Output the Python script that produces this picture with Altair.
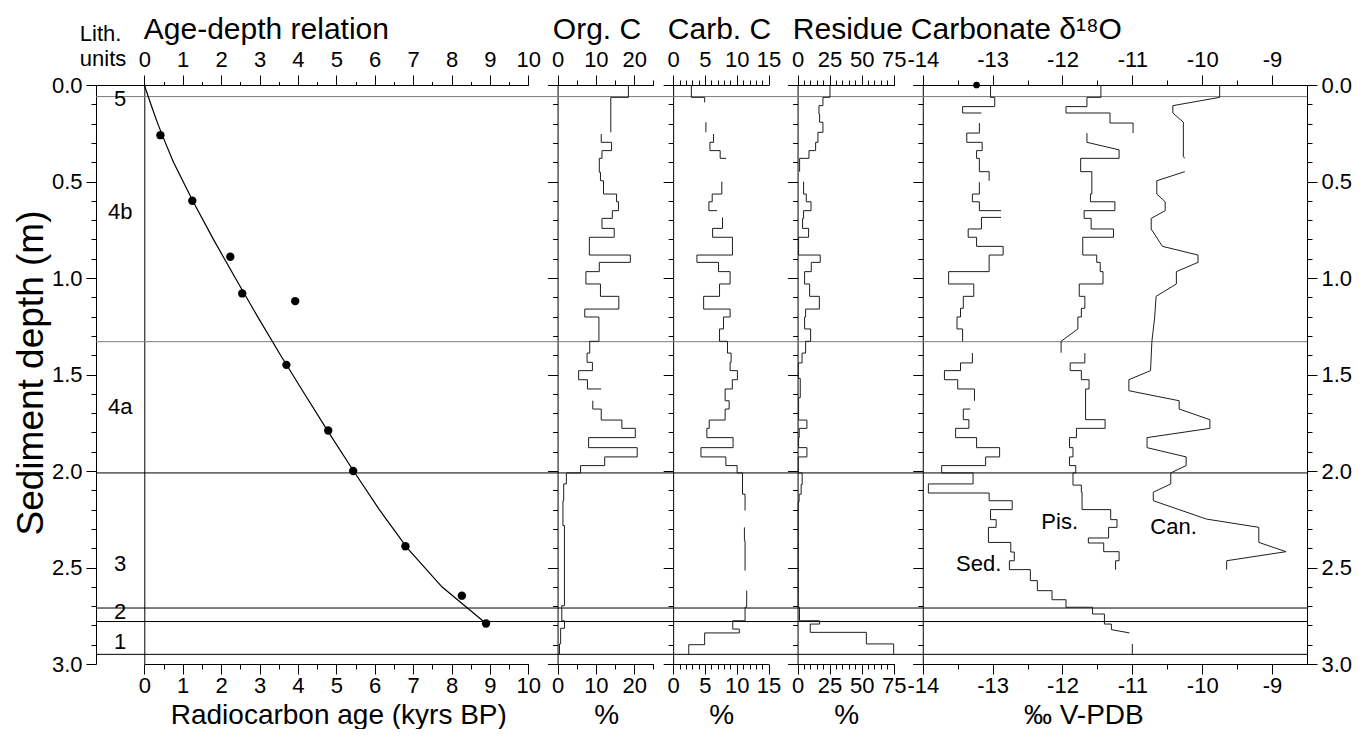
import altair as alt
import pandas as pd

FONT = "Liberation Sans"

# ------------------------------------------------------------------ data
DEPTH_MAX = 3.0

# lithological boundaries (m)
BOUNDARY_MAIN = [2.01, 2.71, 2.78, 2.95]
BOUNDARY_SUB = [0.06, 1.33]

LITH_UNITS = ["5", "4b", "4a", "3", "2", "1"]
LITH_DEPTH = [0.07, 0.66, 1.67, 2.48, 2.73, 2.885]

# radiocarbon dates
AGE_KYR = [0.42, 1.25, 2.24, 2.55, 3.93, 3.70, 4.79, 5.44, 6.80, 8.27, 8.90]
AGE_DEPTH = [0.26, 0.60, 0.89, 1.08, 1.12, 1.45, 1.79, 2.00, 2.39, 2.646, 2.79]

# age-depth model
MODEL_DEPTH = [0, 0.1, 0.2, 0.3, 0.4, 0.6, 0.8, 1.0, 1.2, 1.4, 1.6, 1.8, 2.0, 2.2, 2.4, 2.6, 2.79]
MODEL_KYR = [0, 0.17, 0.35, 0.55, 0.76, 1.26, 1.80, 2.37, 2.95, 3.55, 4.17, 4.80, 5.45, 6.12, 6.85, 7.75, 8.90]

# step profiles: runs of (depth breaks, values between breaks); a tuple = linear ramp
ORGC_RUNS = [
    ([0.0, 0.064, 0.245], [18.5, 13.9]),
    ([0.254, 0.297, 0.34, 0.38, 0.452, 0.496, 0.565, 0.605, 0.651, 0.691, 0.743, 0.789, 0.881,
      0.919, 0.967, 1.031, 1.095, 1.161, 1.202, 1.328, 1.389, 1.437, 1.48, 1.527, 1.575, 1.575],
     [11.4, 14.1, 11.6, 10.9, 11.2, 12.0, 15.4, 15.9, 14.3, 11.6, 14.8, 8.3, 19.0, 10.9, 7.4,
      11.2, 16.0, 7.1, 10.8, 8.4, 7.7, 9.1, 5.5, 7.8, 11.4]),
    ([1.636, 1.679, 1.736, 1.779, 1.827, 1.879, 1.927, 1.972, 2.01, 2.067, 2.154, 2.283, 2.698,
      2.776, 2.815, 2.896, 2.948],
     [9.2, 11.4, 16.8, 20.3, 8.1, 20.8, 12.3, 6.0, 2.3, 1.6, 1.4, 1.8, 1.1, 1.8, 0.8, 0.5]),
]

CARB_RUNS = [
    ([0.0, 0.064, 0.09], [2.86, 4.95]),
    ([0.193, 0.245], [5.15]),
    ([0.254, 0.297, 0.34, 0.38, 0.38], [6.35, 5.78, 7.39, 8.33]),
    ([0.501, 0.565, 0.605, 0.651, 0.651], [7.65, 6.14, 5.62, 6.9]),
    ([0.686, 0.743, 0.789, 0.881, 0.919, 0.967, 1.031, 1.095, 1.161, 1.202, 1.264, 1.328, 1.389,
      1.437, 1.48, 1.527, 1.575, 1.636, 1.679, 1.736, 1.779, 1.827, 1.879, 1.927, 1.972, 2.01,
      2.12, 2.205],
     [7.76, 6.2, 9.32, 3.74, 7.13, 8.95, 7.29, 4.79, 8.95, 7.91, 7.29, 8.54, 9.11, 8.95, 10.1,
      9.3, 8.17, 8.8, 8.17, 5.67, 5.3, 9.42, 4.37, 8.28, 10.05, 10.9, 11.3]),
    ([2.292, 2.361, 2.516], [11.2, 11.3]),
    ([2.62, 2.706, 2.776, 2.819, 2.839, 2.9, 2.948], [11.56, 11.3, 9.37, 10.4, 4.95, 2.45]),
]

RESIDUE_RUNS = [
    ([0.0, 0.064, 0.107, 0.15, 0.193, 0.245, 0.297, 0.34, 0.38, 0.449],
     [25.3, 19.8, 16.7, 17.2, 19.8, 15.9, 14.1, 8.9, 1.6]),
    ([0.501, 0.565, 0.605, 0.651, 0.691, 0.743, 0.789, 0.881, 0.919, 0.967, 1.031, 1.095, 1.161,
      1.202, 1.264, 1.328, 1.389, 1.44, 1.52, 1.62, 1.736, 1.779, 1.827, 1.879, 1.927, 2.01,
      2.07, 2.12, 2.16, 2.706, 2.776, 2.793, 2.836, 2.896, 2.948],
     [4.7, 6.8, 10.5, 4.7, 3.9, 8.6, 0.8, 17.7, 10.7, 5.5, 9.4, 17.0, 6.3, 5.5, 10.2, 6.3, 3.5,
      0.6, 2.1, 0.8, 7.3, 1.3, 0.8, 7.3, 0.6, 3.6, 2.8, 1.2, 0.5, 1.5, 17.2, 9.9, 53.7, 75.0]),
]

SED_RUNS = [
    ([0.0, 0.064, 0.112, 0.145, 0.145], [-13.03, -12.97, -13.43, -13.16]),
    ([0.197, 0.249, 0.297, 0.34, 0.38, 0.449, 0.496], [-13.19, -13.37, -13.15, -13.23, -13.19, -13.05]),
    ([0.504, 0.565, 0.605, 0.651, 0.651], [-13.19, -13.29, -13.19, -12.88]),
    ([0.686, 0.686, 0.746, 0.789, 0.836, 0.881, 0.967, 1.031, 1.095, 1.157, 1.202, 1.264, 1.328],
     [-12.88, -13.16, -13.35, -13.23, -12.85, -13.05, -13.63, -13.27, -13.42, -13.46, -13.51, -13.43]),
    ([1.389, 1.44, 1.48, 1.527, 1.575, 1.636], [-13.29, -13.46, -13.69, -13.50, -13.26]),
    ([1.679, 1.679, 1.734, 1.779, 1.827, 1.879, 1.927, 1.972, 2.01, 2.067, 2.114, 2.154, 2.2,
      2.252, 2.292, 2.37, 2.42, 2.465, 2.511, 2.568, 2.62, 2.667, 2.706, 2.741, 2.793, 2.822, 2.839],
     [-13.32, -13.42, -13.34, -13.53, -13.23, -12.90, -13.10, -13.73, -13.28, -13.92, -13.05,
      -12.72, -13.03, -12.95, -13.06, -12.74, -12.69, -12.76, -12.46, -12.36, -12.15, -11.95,
      -11.57, -11.40, -11.30, (-11.30, -11.04)]),
    ([2.896, 2.948], [-11.0]),
]

PIS_RUNS = [
    ([0.0, 0.064, 0.112, 0.145, 0.197, 0.249], [-11.45, -11.65, -11.95, -11.32, -10.99]),
    ([0.249, 0.297, 0.336, 0.38, 0.449, 0.565, 0.605, 0.651, 0.691, 0.746, 0.789, 0.881, 0.919,
      0.967, 1.031, 1.095, 1.157, 1.202, 1.264, 1.328, 1.387],
     [-11.65, (-11.65, -11.19), -11.19, -11.74, -11.58, -11.60, -11.25, -11.69, -11.59, -11.27,
      -11.71, -11.51, -11.46, -11.42, -11.76, -11.68, -11.73, -11.78, (-11.78, -12.02), -12.02]),
    ([1.389, 1.44, 1.48, 1.527, 1.575, 1.734, 1.779, 1.827, 1.879, 1.927, 1.972, 2.01, 2.073,
      2.11, 2.2, 2.252, 2.292, 2.347, 2.373, 2.418, 2.465, 2.511],
     [-11.68, -11.89, -11.73, -11.62, -11.67, -11.39, -11.80, -11.90, -11.85, -11.90, -11.81,
      -11.85, -11.73, -11.72, -11.31, -11.22, -11.34, -11.63, -11.41, -11.19, -11.24]),
]

# Candona: polyline vertices (depth, d18O)
CAN_RUN1_DEPTH = [0.0, 0.064, 0.107, 0.145, 0.193, 0.371, 0.38]
CAN_RUN1_D18O = [-9.75, -9.75, -10.42, -10.42, -10.27, -10.27, -10.25]
CAN_RUN2_DEPTH = [0.449, 0.496, 0.565, 0.605, 0.651, 0.691, 0.746, 0.836, 0.881, 0.919, 0.967,
                  1.031, 1.095, 1.202, 1.328, 1.48, 1.527, 1.584, 1.636, 1.679, 1.734, 1.779,
                  1.827, 1.879, 1.927, 1.972, 2.01, 2.067, 2.11, 2.154, 2.249, 2.292, 2.37,
                  2.418, 2.465, 2.511]
CAN_RUN2_D18O = [-10.25, -10.65, -10.65, -10.53, -10.53, -10.73, -10.73, -10.57, -10.06, -10.06,
                 -10.37, -10.37, -10.66, -10.68, -10.72, -10.74, -11.05, -11.05, -10.33, -10.33,
                 -9.89, -9.89, -10.79, -10.79, -10.23, -10.23, -10.45, -10.45, -10.70, -10.70,
                 -9.94, -9.19, -9.19, -8.80, -9.65, -9.65]

SURFACE_DEPTH = [0.0]
SURFACE_D18O = [-13.23]

SERIES_LABEL = ["Sed.", "Pis.", "Can."]
SERIES_LABEL_D18O = [-13.2, -12.04, -10.41]
SERIES_LABEL_DEPTH = [2.48, 2.264, 2.29]


# ------------------------------------------------------------------ tables
def runs_to_df(runs, prefix):
    rows = []
    for r, (brk, vals) in enumerate(runs):
        n = 0
        for k, v in enumerate(vals):
            a, b = v if isinstance(v, tuple) else (v, v)
            rows.append(dict(run=f"{prefix}{r}", i=n, depth=brk[k], value=a)); n += 1
            rows.append(dict(run=f"{prefix}{r}", i=n, depth=brk[k + 1], value=b)); n += 1
    return pd.DataFrame(rows)


def verts_to_df(depths, values, run):
    return pd.DataFrame(dict(run=run, i=range(len(depths)), depth=depths, value=values))


df_orgc = runs_to_df(ORGC_RUNS, "o")
df_carb = runs_to_df(CARB_RUNS, "c")
df_resi = runs_to_df(RESIDUE_RUNS, "r")
df_d18o = pd.concat([
    runs_to_df(SED_RUNS, "sed"),
    runs_to_df(PIS_RUNS, "pis"),
    verts_to_df(CAN_RUN1_DEPTH, CAN_RUN1_D18O, "can1"),
    verts_to_df(CAN_RUN2_DEPTH, CAN_RUN2_D18O, "can2"),
], ignore_index=True)

df_bmain = pd.DataFrame(dict(depth=BOUNDARY_MAIN))
df_bsub = pd.DataFrame(dict(depth=BOUNDARY_SUB))
df_lith = pd.DataFrame(dict(unit=LITH_UNITS, depth=LITH_DEPTH))
df_dates = pd.DataFrame(dict(age=AGE_KYR, depth=AGE_DEPTH))
df_model = pd.DataFrame(dict(age=MODEL_KYR, depth=MODEL_DEPTH))
df_surface = pd.DataFrame(dict(value=SURFACE_D18O, depth=SURFACE_DEPTH))
df_labels = pd.DataFrame(dict(text=SERIES_LABEL, value=SERIES_LABEL_D18O, depth=SERIES_LABEL_DEPTH))

# ------------------------------------------------------------------ layout
W, H = 1211, 579
LITH_RANGE = [0, 48.3]
AGE_TOP = dict(domain=[-1.258, 10], range=[0, 432.3])
AGE_BOT = dict(domain=[0, 10], range=[48.3, 432.3])
ORGC = dict(domain=[-2.5, 25], range=[452, 557.3])
CARB = dict(domain=[-1.5, 15], range=[567.6, 672.6])
RESI = dict(domain=[-7, 75.5], range=[692.6, 798.3])
D18O = dict(domain=[-14.14, -8.5], range=[817, W])


def px_of(p, v):
    d0, d1 = p["domain"]
    r0, r1 = p["range"]
    return r0 + (v - d0) / (d1 - d0) * (r1 - r0)


def xs(p):
    return alt.Scale(domain=p["domain"], range=p["range"], nice=False, zero=False)


DEPTH_TICKS = [round(k * 0.1, 1) for k in range(31)]
DEPTH_MINOR = "abs(datum.value*2 - round(datum.value*2)) > 0.01"
DEPTH_LABEL = "abs(datum.value*2 - round(datum.value*2)) < 0.01 ? format(datum.value, '.1f') : ''"


def dash(test, n):
    return {"condition": {"test": test, "value": [n, 300]}, "value": [300, 0]}


def yenc(axis):
    return alt.Y("depth:Q", scale=alt.Scale(domain=[0, DEPTH_MAX], reverse=True, nice=False, zero=False),
                 axis=axis)


def inner_y(offset, ticks=True):
    return alt.Axis(orient="left", offset=-offset, values=DEPTH_TICKS, labels=False, ticks=ticks,
                    tickSize=10, tickDash=dash(DEPTH_MINOR, 5), domain=True, grid=False, title=None)


def x_axis(orient, values, minor_test, minor_len, label_expr, title, tx, ty, size, align):
    return alt.Axis(orient=orient, values=values, tickSize=10, tickDash=dash(minor_test, minor_len),
                    labelExpr=label_expr, labelOverlap=False, labelFlush=False,
                    labelPadding=4 if orient == "top" else 1, domain=True, grid=False,
                    title=title, titleX=tx, titleY=ty, titleFontSize=size, titleAlign=align,
                    titleBaseline="alphabetic")


TOP_Y, BOT_Y = -47, 59
OX = 95.7  # plot origin in page pixels (for title placement)

left_axis = alt.Axis(orient="left", values=DEPTH_TICKS, tickSize=10, tickDash=dash(DEPTH_MINOR, 5),
                     labelExpr=DEPTH_LABEL, labelOverlap=False, labelFlush=False, labelPadding=4,
                     grid=False, title="Sediment depth (m)", titleFontSize=37, titleAngle=270,
                     titleX=31 - OX, titleY=H / 2 - 2, titleAlign="center", titleBaseline="middle")
right_axis = alt.Axis(orient="right", values=DEPTH_TICKS, tickSize=10, tickDash=dash(DEPTH_MINOR, 5),
                      labelExpr=DEPTH_LABEL, labelOverlap=False, labelFlush=False, labelPadding=4,
                      grid=False, title=None)

rules_main = alt.Chart(df_bmain).mark_rule(color="black", strokeWidth=1).encode(y=yenc(left_axis))
rules_sub = alt.Chart(df_bsub).mark_rule(color="#7a7a7a", strokeWidth=1).encode(y=yenc(right_axis))

lith_axis = alt.Axis(orient="top", domain=False, ticks=False, labels=False, grid=False,
                     title=["Lith.", "units"], titleFontSize=22, titleX=79 - OX, titleY=-45,
                     titleAlign="left", titleBaseline="alphabetic", titleLineHeight=25)
lith_text = alt.Chart(df_lith).mark_text(font=FONT, fontSize=22, color="black").encode(
    x=alt.XDatum(0.5, type="quantitative",
                 scale=alt.Scale(domain=[0, 1], range=LITH_RANGE, nice=False, zero=False),
                 axis=lith_axis),
    y=yenc(None), text="unit:N")

INT_LABEL = "datum.value % 1 === 0 ? '' + datum.value : ''"
HALF_MINOR = "datum.value % 1 !== 0"
age_ticks = [k * 0.5 for k in range(21)]

age_curve = alt.Chart(df_model).mark_line(color="black", strokeWidth=1.2).encode(
    x=alt.X("age:Q", scale=xs(AGE_TOP),
            axis=x_axis("top", age_ticks, HALF_MINOR, 3.5, INT_LABEL, "Age-depth relation",
                        143 - OX, TOP_Y, 30, "left")),
    y=yenc(inner_y(px_of(AGE_TOP, 0), ticks=False)),
    order="depth:Q")

age_pts = alt.Chart(df_dates).mark_circle(color="black", size=70, opacity=1).encode(
    x=alt.X("age:Q", scale=xs(AGE_BOT),
            axis=x_axis("bottom", age_ticks, HALF_MINOR, 5, INT_LABEL, "Radiocarbon age (kyrs BP)",
                        338 - OX, BOT_Y, 28, "center")),
    y=yenc(None))


def panel(df, p, values, minor_test, label_expr, title, title_left, pct_center):
    top = alt.Chart(df).mark_line(color="#1e1e1e", strokeWidth=1).encode(
        x=alt.X("value:Q", scale=xs(p),
                axis=x_axis("top", values, minor_test, 5, label_expr, title, title_left - OX, TOP_Y, 30, "left")),
        y=yenc(inner_y(px_of(p, 0))),
        detail="run:N", order="i:Q")
    bot = alt.Chart(df).mark_line(opacity=0).encode(
        x=alt.X("value:Q", scale=xs(p),
                axis=x_axis("bottom", values, minor_test, 5, label_expr, "%", pct_center - OX, BOT_Y, 28, "center")),
        y=yenc(None), detail="run:N", order="i:Q")
    return [top, bot]


orgc_layers = panel(df_orgc, ORGC, [0, 5, 10, 15, 20, 25], "datum.value % 10 !== 0",
                    "datum.value % 10 === 0 ? '' + datum.value : ''", "Org. C", 552, 606)
carb_layers = panel(df_carb, CARB, list(range(16)), "datum.value % 5 !== 0",
                    "datum.value % 5 === 0 ? '' + datum.value : ''", "Carb. C", 667, 721)
resi_layers = panel(df_resi, RESI, list(range(0, 80, 5)), "datum.value % 25 !== 0",
                    "datum.value % 25 === 0 ? '' + datum.value : ''", "Residue", 792, 846)

D18O_LABEL = "datum.value % 1 === 0 ? (datum.value < 0 ? '-' + (-datum.value) : '' + datum.value) : ''"
d18o_ticks = [-14 + k * 0.5 for k in range(11)]

d18o_lines = alt.Chart(df_d18o).mark_line(color="#1e1e1e", strokeWidth=1).encode(
    x=alt.X("value:Q", scale=xs(D18O),
            axis=x_axis("top", d18o_ticks, HALF_MINOR, 5, D18O_LABEL, "Carbonate \u03b4\u00b9\u2078O",
                        910 - OX, TOP_Y, 30, "left")),
    y=yenc(inner_y(px_of(D18O, -14))),
    detail="run:N", order="i:Q")

d18o_dot = alt.Chart(df_surface).mark_circle(color="black", size=45, opacity=1).encode(
    x=alt.X("value:Q", scale=xs(D18O),
            axis=x_axis("bottom", d18o_ticks, HALF_MINOR, 5, D18O_LABEL, "\u2030 V-PDB",
                        1083 - OX, BOT_Y, 28, "center")),
    y=yenc(None))

d18o_text = alt.Chart(df_labels).mark_text(font=FONT, fontSize=22, color="black").encode(
    x=alt.X("value:Q", scale=xs(D18O), axis=None),
    y=yenc(None), text="text:N")

chart = alt.layer(
    rules_sub, rules_main, lith_text, age_curve, age_pts,
    *orgc_layers, *carb_layers, *resi_layers,
    d18o_lines, d18o_dot, d18o_text,
).resolve_scale(x="independent", y="independent").resolve_axis(
    x="independent", y="independent"
).properties(
    width=W, height=H,
    autosize=alt.AutoSizeParams(type="none"),
    padding={"left": 88, "top": 77, "right": 50, "bottom": 65},
).configure(font=FONT).configure_view(stroke=None).configure_axis(
    labelFont=FONT, titleFont=FONT, labelColor="black", titleColor="black",
    domainColor="black", tickColor="black", labelFontSize=22, titleFontWeight="normal",
    domainWidth=1, tickWidth=1,
)

chart.save("out.html", embed_options={"renderer": "svg", "actions": False})
